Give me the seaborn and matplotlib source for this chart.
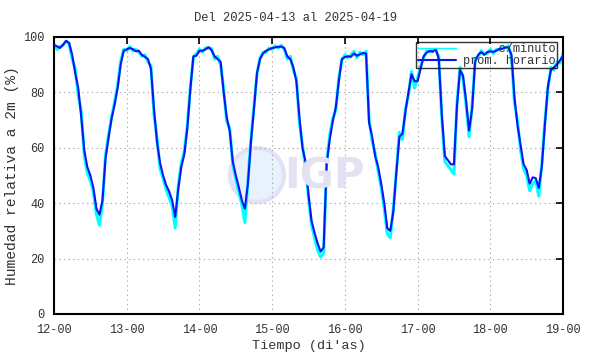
import numpy as np
import pandas as pd
import matplotlib
matplotlib.use("Agg")
import matplotlib.pyplot as plt
from matplotlib.patches import Ellipse
import seaborn as sns

# ---------------- data ----------------
title = "Del 2025-04-13 al 2025-04-19"
xlabel = "Tiempo (di'as)"
ylabel = "Humedad relativa a 2m (%)"
tick_labels = ["12-00", "13-00", "14-00", "15-00", "16-00", "17-00", "18-00", "19-00"]
yticks = [0, 20, 40, 60, 80, 100]
series_names = ["c/minuto", "prom. horario"]

# hourly averages (prom. horario), one list per day, hours 0..23
hr_d12 = [97.0, 96.6, 96.0, 97.2, 98.6, 97.8, 93.5, 87.0, 81.5, 71.0, 59.0, 53.0,
          50.0, 45.5, 38.0, 35.8, 41.0, 56.0, 63.5, 70.5, 75.5, 81.5, 90.0, 95.0]
hr_d13 = [95.5, 96.0, 95.6, 94.8, 95.0, 93.5, 92.8, 92.0, 88.5, 74.0, 62.0, 54.5,
          50.0, 46.5, 44.2, 41.0, 35.0, 45.0, 53.0, 57.5, 67.0, 81.0, 93.0, 93.2]
hr_d14 = [95.0, 95.0, 95.5, 96.3, 95.2, 93.0, 92.0, 91.0, 80.0, 71.0, 66.0, 55.0,
          50.0, 45.7, 41.0, 38.0, 47.0, 62.0, 74.0, 87.0, 92.0, 94.0, 95.0, 95.5]
hr_d15 = [96.0, 96.2, 96.4, 96.5, 96.0, 93.0, 92.0, 89.0, 84.0, 71.0, 60.0, 55.0,
          43.0, 33.6, 29.3, 25.5, 22.5, 24.0, 54.0, 63.0, 69.5, 74.5, 84.0, 92.0]
hr_d16 = [92.7, 93.0, 92.8, 94.0, 93.2, 93.7, 94.2, 94.0, 69.0, 64.0, 57.0, 53.0,
          47.0, 40.0, 31.0, 30.0, 37.0, 51.0, 64.0, 65.0, 73.0, 80.0, 86.5, 84.0]
hr_d17 = [84.0, 88.5, 93.0, 94.3, 95.0, 94.6, 95.7, 92.0, 72.0, 57.0, 55.5, 54.0,
          54.0, 75.0, 88.0, 86.0, 77.0, 66.2, 74.0, 91.0, 93.5, 94.5, 93.5, 94.5]
hr_d18 = [94.8, 94.6, 95.0, 95.7, 95.7, 96.2, 96.2, 93.5, 78.0, 68.0, 61.0, 54.0,
          52.0, 47.0, 49.3, 49.0, 45.5, 53.0, 68.0, 82.0, 88.0, 89.0, 90.0, 91.5]
hr_end = [93.2]

# per-minute record (c/minuto), read at the same hourly marks (edges of spread)
mn_d12 = [97.5, 95.5, 96.5, 97.0, 98.4, 97.5, 92.0, 88.5, 79.0, 73.0, 57.0, 51.0,
          48.0, 44.0, 36.0, 32.0, 40.0, 57.5, 64.5, 71.0, 76.5, 82.5, 91.0, 95.5]
mn_d13 = [95.0, 96.5, 95.0, 95.5, 94.5, 93.0, 93.5, 91.0, 89.5, 72.0, 63.5, 52.5,
          49.0, 45.0, 42.0, 39.0, 31.0, 46.0, 54.5, 58.5, 68.0, 82.0, 92.5, 94.0]
mn_d14 = [95.5, 94.5, 96.0, 96.0, 95.8, 92.0, 93.0, 90.0, 81.0, 69.5, 67.0, 54.0,
          48.5, 44.0, 39.5, 33.0, 48.0, 63.0, 75.0, 86.5, 92.5, 94.5, 94.5, 96.0]
mn_d15 = [95.5, 96.8, 96.0, 97.0, 95.5, 92.0, 93.0, 88.0, 85.0, 69.0, 61.0, 53.0,
          42.0, 32.0, 27.5, 23.0, 20.5, 22.0, 55.0, 64.5, 70.5, 73.5, 85.0, 91.5]
mn_d16 = [93.5, 92.5, 93.5, 94.8, 92.5, 94.5, 93.5, 94.8, 70.0, 62.5, 58.0, 51.5,
          45.5, 38.0, 29.0, 27.5, 38.0, 52.0, 65.5, 63.0, 74.0, 79.0, 87.5, 81.5]
mn_d17 = [85.0, 89.5, 92.5, 95.0, 94.5, 95.5, 95.0, 93.0, 70.5, 55.0, 53.5, 52.0,
          50.5, 76.0, 89.0, 85.0, 75.5, 64.0, 75.0, 92.0, 93.0, 95.0, 94.0, 94.0]
mn_d18 = [95.5, 94.0, 95.5, 95.2, 96.2, 96.0, 96.8, 92.5, 76.0, 69.5, 59.0, 52.5,
          50.0, 44.5, 47.0, 48.0, 42.5, 54.0, 69.0, 81.0, 89.0, 88.0, 91.0, 90.5]
mn_end = [93.8]

hourly = hr_d12 + hr_d13 + hr_d14 + hr_d15 + hr_d16 + hr_d17 + hr_d18 + hr_end
minute = mn_d12 + mn_d13 + mn_d14 + mn_d15 + mn_d16 + mn_d17 + mn_d18 + mn_end
days = np.arange(len(hourly)) / 24.0

df = pd.DataFrame({"dia": days, "minuto": minute, "horario": hourly})

# ---------------- style ----------------
sns.set_theme(style="white")
plt.rcParams["font.family"] = ["Liberation Mono", "DejaVu Sans Mono"]
plt.rcParams["axes.unicode_minus"] = False

W, H = 590, 354
fig = plt.figure(figsize=(W / 100, H / 100), dpi=100)
fig.patch.set_facecolor("white")
left, right, top, bottom = 54, 563, 36.9, 313.9
ax = fig.add_axes([left / W, 1 - bottom / H, (right - left) / W, (bottom - top) / H])
ax.set_facecolor("none")

# watermark (IGP logo)
ax.add_patch(Ellipse((257 / W, 1 - 175 / H), 54 / W, 54 / H, transform=fig.transFigure,
                     facecolor="#e8f2fd", edgecolor="#e2e2f4", lw=3, zorder=0))
fig.text(324 / W, 1 - 176 / H, "IGP", ha="center", va="center", fontsize=30,
         fontweight="bold", color="#e2e2f2", family="DejaVu Sans", zorder=0)

sns.lineplot(data=df, x="dia", y="minuto", ax=ax, color="#00ffff", lw=2.2,
             label="     " + series_names[0], zorder=2)
sns.lineplot(data=df, x="dia", y="horario", ax=ax, color="#0a14f0", lw=1.5,
             label=series_names[1], zorder=3)

ax.set_xlim(0, 7)
ax.set_ylim(0, 100)
ax.set_xticks(range(len(tick_labels)))
ax.set_xticklabels(tick_labels)
ax.set_yticks(yticks)
ax.tick_params(direction="in", top=True, right=True, length=5, width=1.2,
               labelsize=8.6, labelcolor="#333333", color="black", pad=7)
ax.grid(True, ls=(0, (1.2, 3)), color="#a8a8a8", lw=0.8)
for s in ax.spines.values():
    s.set_color("black")
    s.set_linewidth(1.5)

fig.text(0.5, 1 - 18 / H, title, ha="center", va="center", fontsize=8.75, color="#333333")
ax.set_xlabel(xlabel, fontsize=9.7, color="#333333", labelpad=3)
ax.set_ylabel(ylabel, fontsize=10.5, color="#333333", labelpad=2.5)

leg = ax.legend(loc="upper right", bbox_to_anchor=(0.988, 0.982), fontsize=8.6,
                frameon=True, fancybox=False, handlelength=3.2, handletextpad=0.6,
                labelspacing=0.0, borderpad=0.1, borderaxespad=0.0)
leg.get_frame().set_edgecolor("black")
leg.get_frame().set_linewidth(1.0)
leg.get_frame().set_facecolor("none")
for t in leg.get_texts():
    t.set_color("#333333")
leg.legend_handles[0].set_linewidth(1.0)

fig.savefig("out.png", dpi=100)
